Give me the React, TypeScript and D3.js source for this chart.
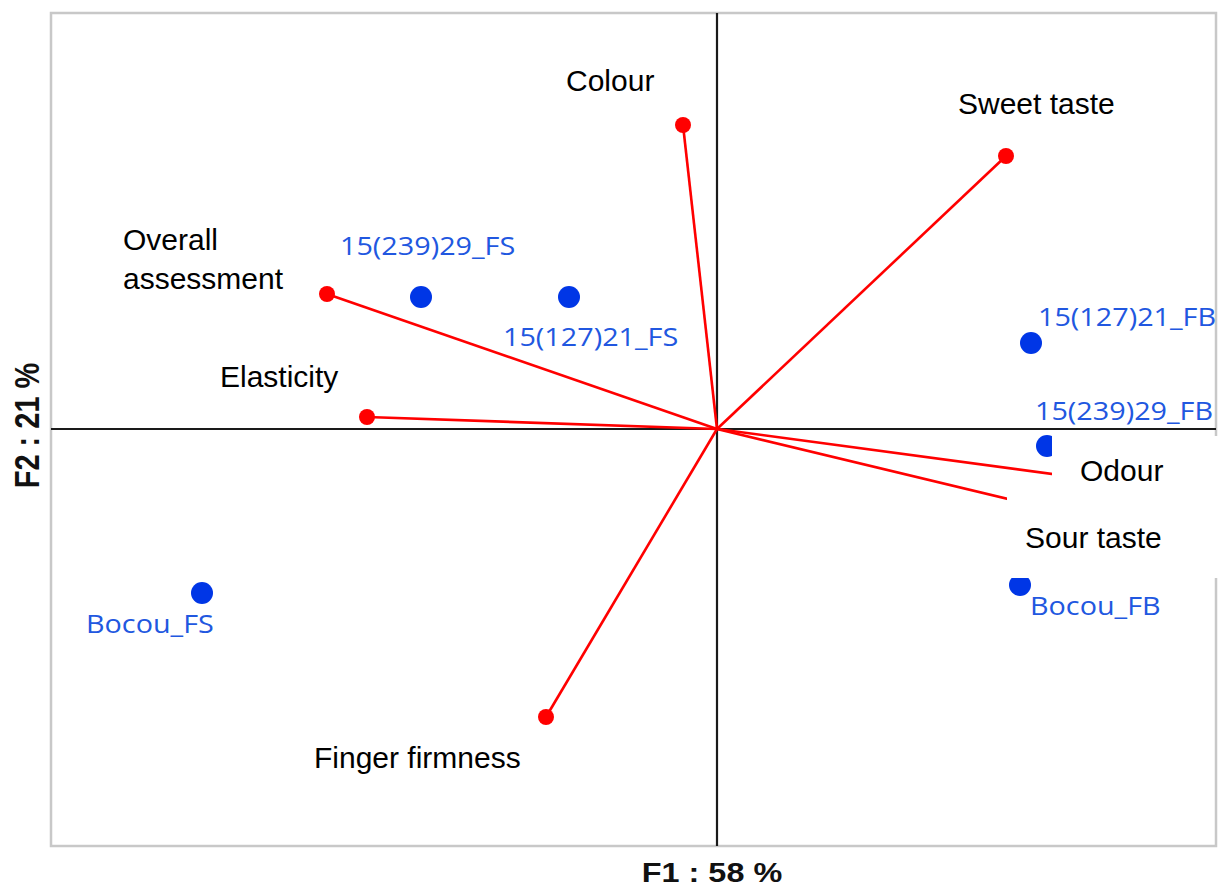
import React from "react";
import * as d3 from "d3";

// Variables (red vectors) – coordinates on F1 / F2
const varNames = ["Colour", "Sweet taste", "Overall assessment", "Elasticity", "Finger firmness", "Odour", "Sour taste"];
const varF1 = [-0.068, 0.578, -0.78, -0.70, -0.342, 1.014, 1.014];
const varF2 = [0.608, 0.546, 0.27, 0.024, -0.576, -0.136, -0.244];

// Observations (blue points)
const obsNames = ["15(239)29_FS", "15(127)21_FS", "15(127)21_FB", "15(239)29_FB", "Bocou_FB", "Bocou_FS"];
const obsF1 = [-0.592, -0.296, 0.628, 0.66, 0.606, -1.03];
const obsF2 = [0.264, 0.264, 0.172, -0.034, -0.312, -0.328];

// Axis titles
const xTitle = "F1 : 58 %";
const yTitle = "F2 : 21 %";

// label layout (pixel offsets from point, left-anchored, vertical center)
const varLabelOffsets: Record<string, { dx: number; dy: number; lines?: string[]; box?: [number, number, number, number] }> = {
  "Colour": { dx: -117, dy: -45 },
  "Sweet taste": { dx: -48, dy: -53 },
  "Overall assessment": { dx: -204, dy: -55, lines: ["Overall", "assessment"] },
  "Elasticity": { dx: -147, dy: -41 },
  "Finger firmness": { dx: -232, dy: 40 },
  "Odour": { dx: -144, dy: -27, box: [-172, -61, 170, 61] },
  "Sour taste": { dx: -199, dy: -14, box: [-217, -54, 215, 81] },
};
const obsLabelOffsets: Record<string, { dx: number; dy: number }> = {
  "15(239)29_FS": { dx: -81, dy: -52 },
  "15(127)21_FS": { dx: -66, dy: 39 },
  "15(127)21_FB": { dx: 7, dy: -27 },
  "15(239)29_FB": { dx: -12, dy: -36 },
  "Bocou_FB": { dx: 10, dy: 20 },
  "Bocou_FS": { dx: -116, dy: 30 },
};

const W = 1220, H = 888;
const left = 51, right = 1216, top = 13, bottom = 846;

export default function App() {
  const x = d3.scaleLinear().domain([-1.332, 0.998]).range([left, right]);
  const y = d3.scaleLinear().domain([-0.834, 0.832]).range([bottom, top]);
  const x0 = x(0), y0 = y(0);
  const red = "#ff0000";
  const blue = "#0036e6";
  const blueText = "#2157e0";
  const blackFont = "'Liberation Sans', Arial, sans-serif";
  const blueFont = "'Open Sans', sans-serif";
  const line = d3.line<[number, number]>();

  return (
    <svg width={W} height={H} style={{ position: "absolute", left: 0, top: 0, background: "#fff" }}>
      <rect x={left} y={top} width={right - left} height={bottom - top} fill="#fff" stroke="#c8c8c8" strokeWidth={2.5} />
      {/* axes */}
      <path d={line([[left, y0], [right, y0]]) || ""} stroke="#1a1a1a" strokeWidth={2.2} />
      <path d={line([[x0, top], [x0, bottom]]) || ""} stroke="#1a1a1a" strokeWidth={2.2} />
      {/* vectors */}
      {varNames.map((n, i) => (
        <path key={"v" + n} d={line([[x0, y0], [x(varF1[i]), y(varF2[i])]]) || ""} stroke={red} strokeWidth={2.6} fill="none" />
      ))}
      {varNames.map((n, i) => (
        <circle key={"vc" + n} cx={x(varF1[i])} cy={y(varF2[i])} r={8} fill={red} />
      ))}
      {obsNames.map((n, i) => (
        <circle key={"o" + n} cx={x(obsF1[i])} cy={y(obsF2[i])} r={11} fill={blue} />
      ))}
      {obsNames.map((n, i) => {
        const o = obsLabelOffsets[n];
        const px = x(obsF1[i]) + o.dx, py = y(obsF2[i]) + o.dy;
        return (
          <text key={"ol" + n} transform={`translate(${px},${py}) scale(1.15,1)`} fontFamily={blueFont} fontSize={25} fill={blueText} dominantBaseline="central">
            {n}
          </text>
        );
      })}
      {/* white label boxes */}
      {varNames.map((n, i) => {
        const o = varLabelOffsets[n];
        if (!o.box) return null;
        const px = x(varF1[i]), py = y(varF2[i]);
        return <rect key={"b" + n} x={px + o.box[0]} y={py + o.box[1]} width={o.box[2]} height={o.box[3]} fill="#fff" />;
      })}
      {varNames.map((n, i) => {
        const o = varLabelOffsets[n];
        const px = x(varF1[i]) + o.dx, py = y(varF2[i]) + o.dy;
        const lines = o.lines || [n];
        return (
          <text key={"vl" + n} x={px} y={py} fontFamily={blackFont} fontSize={30} fill="#000" dominantBaseline="central">
            {lines.map((l, k) => (
              <tspan key={k} x={px} dy={k === 0 ? 0 : 39}>{l}</tspan>
            ))}
          </text>
        );
      })}
      {/* axis titles */}
      <text transform={`translate(712,882) scale(1.2,1)`} textAnchor="middle" fontFamily={blackFont} fontWeight="bold" fontSize={27} fill="#111">
        {xTitle}
      </text>
      <text transform={`translate(27,${(top + bottom) / 2 - 4}) scale(1.2,1) rotate(-90)`} textAnchor="middle" dominantBaseline="central" fontFamily={blackFont} fontWeight="bold" fontSize={29} fill="#111">
        {yTitle}
      </text>
    </svg>
  );
}
